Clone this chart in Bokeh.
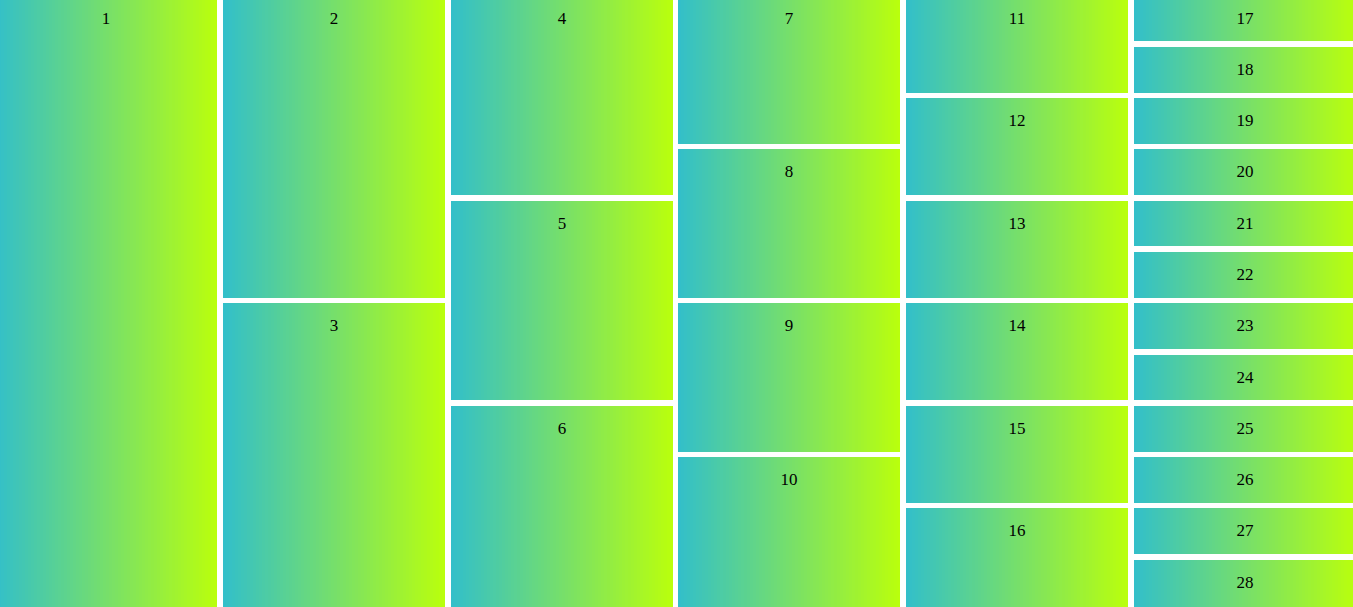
import numpy as np
from bokeh.plotting import figure
from bokeh.models import ColumnDataSource
from bokeh.core.properties import value
from bokeh.embed import file_html
from bokeh.resources import INLINE

# Data
labels = ["1", "2", "3", "4", "5", "6", "7", "8", "9", "10", "11", "12", "13", "14",
          "15", "16", "17", "18", "19", "20", "21", "22", "23", "24", "25", "26", "27", "28"]
cells_per_column = [1, 2, 3, 4, 6, 12]
grad_start = (50, 191, 202)
grad_end = (186, 255, 12)

W, H = 1353, 607
x0, y0 = -4.75, -4.5
gap_x, gap_y = 5.75, 5.5
col_pitch = 227.75
span_y = 615.5
STRIP = 3

def lerp_color(f):
    return "#%02x%02x%02x" % tuple(int(round(grad_start[k] + (grad_end[k] - grad_start[k]) * f)) for k in range(3))

ql, qr, qt, qb, qc = [], [], [], [], []
tx, ty, txt = [], [], []
li = 0
for c, n in enumerate(cells_per_column):
    row_pitch = span_y / n
    for r in range(n):
        left = round(x0 + c * col_pitch)
        right = round(x0 + c * col_pitch + col_pitch - gap_x)
        top = round(y0 + r * row_pitch)
        bottom = round(y0 + r * row_pitch + row_pitch - gap_y)
        if r == n - 1:
            bottom = H + 2
        w = right - left
        xs = list(range(left, right, STRIP)) + [right]
        for a, b in zip(xs[:-1], xs[1:]):
            ql.append(a); qr.append(min(b + 1, right)); qt.append(top); qb.append(bottom)
            qc.append(lerp_color(((a + b) / 2 - left) / w))
        tx.append((left + right) / 2); ty.append(top + 22.5); txt.append(labels[li])
        li += 1

# plot is shifted 1px up/left so that the half-covered frame edge lies off-screen
p = figure(width=W + 1, height=H + 1, x_range=(-0.5, W + 0.5), y_range=(H + 0.5, -0.5),
           output_backend="svg", toolbar_location=None, min_border=0)
p.styles = {"margin-left": "-1px", "margin-top": "-1px"}
p.axis.visible = False
p.grid.visible = False
p.outline_line_color = None
p.background_fill_color = "white"
p.border_fill_color = "white"

qsrc = ColumnDataSource(dict(left=ql, right=qr, top=qt, bottom=qb, color=qc))
p.quad(left="left", right="right", top="top", bottom="bottom", fill_color="color",
       line_color=None, source=qsrc)

src = ColumnDataSource(dict(x=tx, y=ty, t=txt))
p.text(x="x", y="y", text="t", source=src, text_align="center", text_baseline="middle",
       text_font=value("Liberation Serif"), text_font_size="17px", text_color="black")

open("out.html", "w").write(file_html(p, INLINE))
